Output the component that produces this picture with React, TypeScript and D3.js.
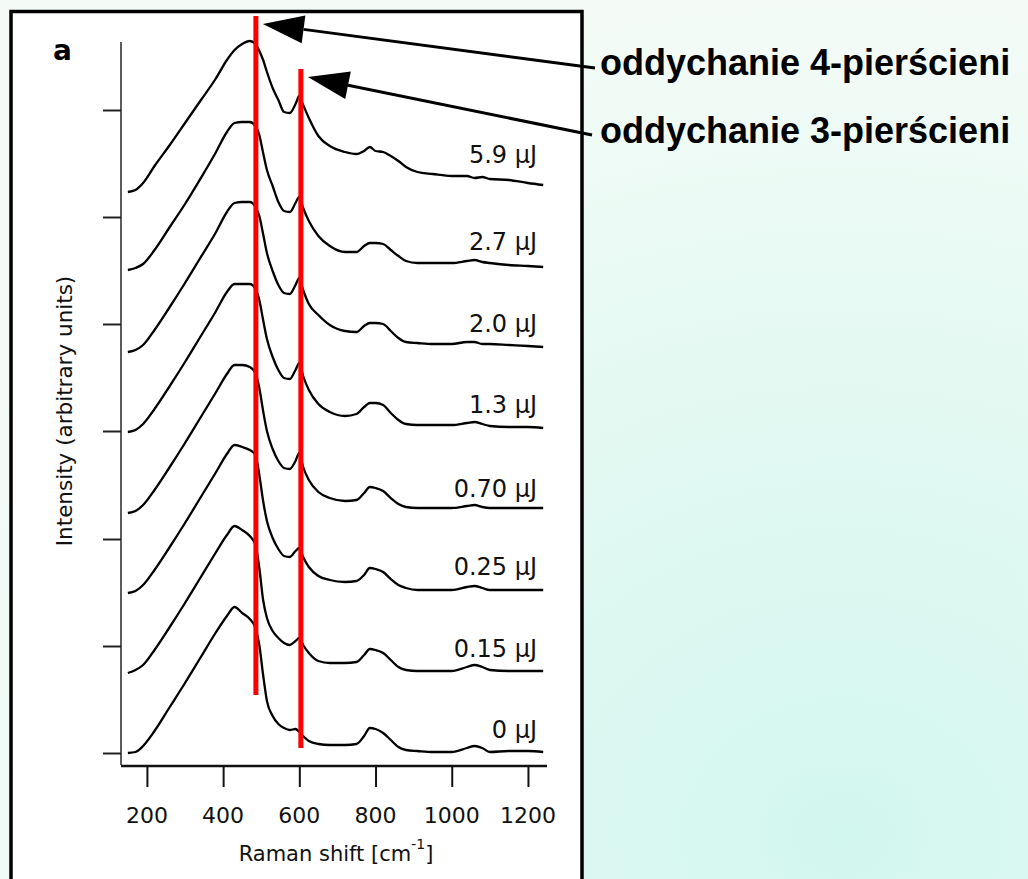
import React, { useRef, useEffect } from 'react';
import * as d3 from 'd3';

// Raman shift grid (cm-1) shared by all spectra
const ramanShift = [150, 170, 190, 220, 260, 300, 340, 380, 410, 430, 450, 470, 485, 495, 505, 515, 530, 545, 560, 575,
  590, 600, 610, 625, 650, 680, 720, 750, 770, 785, 800, 820, 840, 860, 880, 910, 950, 1000, 1040, 1060,
  1080, 1100, 1150, 1200, 1240];

// intensities above each trace's own baseline (arbitrary units)
const spec0 = [0, 1, 7, 22, 46, 70, 95, 120, 137, 146, 140, 134, 125, 108, 78, 52, 37, 29, 25, 23,
  24, 21, 17, 12, 9, 8, 8, 9, 17, 25, 24, 20, 13, 6, 3, 2, 1, 1, 5, 7, 5, 1, 2, 2, 1];
const spec015 = [0, 3, 8, 23, 46, 70, 95, 120, 138, 147, 143, 137, 128, 105, 73, 55, 42, 35, 30, 28,
  32, 35, 28, 20, 12, 10, 10, 11, 18, 24, 23, 20, 13, 6, 3, 2, 2, 2, 6, 8, 6, 3, 2, 2, 2];
const spec025 = [0, 2, 8, 23, 46, 70, 95, 120, 139, 148, 146, 143, 138, 118, 92, 72, 55, 44, 37, 36,
  42, 45, 36, 26, 17, 13, 11, 12, 18, 25, 24, 21, 14, 8, 5, 3, 3, 3, 6, 7, 5, 3, 3, 3, 3];
const spec070 = [0, 2, 8, 23, 46, 70, 95, 120, 139, 148, 148, 146, 140, 125, 102, 82, 64, 52, 45, 44,
  52, 60, 46, 33, 21, 15, 12, 13, 20, 26, 25, 22, 15, 9, 6, 5, 5, 5, 7, 8, 6, 5, 5, 5, 5];
const spec13 = [0, 2, 8, 23, 46, 70, 95, 120, 140, 148, 148, 148, 143, 132, 112, 93, 75, 62, 54, 53,
  62, 69, 56, 42, 28, 20, 16, 18, 25, 29, 29, 27, 19, 12, 8, 7, 7, 7, 9, 10, 8, 6, 5, 5, 4];
const spec20 = [0, 2, 7, 22, 45, 69, 94, 119, 140, 149, 150, 150, 145, 136, 118, 99, 81, 67, 59, 58,
  67, 74, 62, 48, 37, 27, 21, 20, 26, 29, 29, 28, 21, 14, 10, 9, 8, 8, 10, 10, 8, 8, 7, 6, 5];
const spec27 = [0, 2, 6, 20, 43, 66, 91, 117, 138, 147, 148, 148, 144, 135, 117, 100, 84, 68, 59, 58,
  67, 73, 62, 49, 34, 24, 18, 18, 24, 27, 27, 26, 20, 14, 9, 7, 7, 7, 9, 10, 8, 7, 5, 4, 3];
const spec59 = [0, 2, 9, 26, 47, 69, 91, 113, 132, 142, 148, 151, 148, 141, 132, 120, 104, 92, 80, 79,
  88, 96, 87, 74, 56, 46, 40, 38, 41, 45, 41, 40, 36, 31, 25, 20, 18, 16, 16, 14, 15, 13, 12, 9, 7];

const spectra = [spec0, spec015, spec025, spec070, spec13, spec20, spec27, spec59];
const energyLabels = ['0 µJ', '0.15 µJ', '0.25 µJ', '0.70 µJ', '1.3 µJ', '2.0 µJ', '2.7 µJ', '5.9 µJ'];
const offsets = [0, 80, 160, 240, 321, 401, 483, 561];
const labelLevels = [15, 96, 178, 256, 340, 421, 503, 590];

const xTicks = [200, 400, 600, 800, 1000, 1200];
const yTicks = [0, 107, 214, 322, 429, 536, 643];

// breathing modes marked with red lines
const modeShift = [486, 604];
const modeTop = [737, 684];
const modeLabels = ['oddychanie 4-pierścieni', 'oddychanie 3-pierścieni'];

const W = 1028;
const H = 879;

const App = () => {
  const svgRef = useRef(null);

  useEffect(() => {
    const svg = d3.select(svgRef.current);
    svg.selectAll('*').remove();

    // page background
    const defs = svg.append('defs');
    const bg = defs.append('radialGradient')
      .attr('id', 'bg').attr('cx', 0.82).attr('cy', 0.95).attr('r', 0.95);
    bg.append('stop').attr('offset', 0).attr('stop-color', '#d2f7ef');
    bg.append('stop').attr('offset', 0.55).attr('stop-color', '#e3f9f2');
    bg.append('stop').attr('offset', 1).attr('stop-color', '#f4fbf7');
    svg.append('rect').attr('width', W).attr('height', H).attr('fill', 'url(#bg)');

    // white figure panel
    svg.append('rect')
      .attr('x', 11).attr('y', 11.5).attr('width', 571).attr('height', 900)
      .attr('fill', '#fff').attr('stroke', '#000').attr('stroke-width', 3.5);

    const x = d3.scaleLinear().domain([132, 1250]).range([121, 547]);
    const y = d3.scaleLinear().domain([-12, 711]).range([765, 42]);

    const font = '"DejaVu Sans", Verdana, sans-serif';

    // y axis
    svg.append('line')
      .attr('x1', 121).attr('x2', 121).attr('y1', y(711)).attr('y2', y(-12))
      .attr('stroke', '#333').attr('stroke-width', 1.6);
    const yAxis = svg.append('g')
      .attr('transform', 'translate(121,0)')
      .call(d3.axisLeft(y).tickValues(yTicks).tickSize(18).tickFormat(() => ''));
    yAxis.select('.domain').remove();
    yAxis.selectAll('line').attr('stroke', '#222').attr('stroke-width', 2);

    // x axis
    svg.append('line')
      .attr('x1', x(132)).attr('x2', x(1250)).attr('y1', 766).attr('y2', 766)
      .attr('stroke', '#111').attr('stroke-width', 2.6);
    const xAxis = svg.append('g')
      .attr('transform', 'translate(0,767)')
      .call(d3.axisBottom(x).tickValues(xTicks).tickSize(20).tickFormat(() => ''));
    xAxis.select('.domain').remove();
    xAxis.selectAll('line').attr('stroke', '#111').attr('stroke-width', 2);

    svg.append('g')
      .selectAll('text')
      .data(xTicks)
      .join('text')
      .attr('x', d => x(d))
      .attr('y', 823)
      .attr('text-anchor', 'middle')
      .attr('font-family', font)
      .attr('font-size', 22)
      .attr('fill', '#111')
      .text(d => d);

    // axis titles
    const xt = svg.append('text')
      .attr('x', 336).attr('y', 861)
      .attr('text-anchor', 'middle')
      .attr('font-family', font).attr('font-size', 21).attr('fill', '#111');
    xt.append('tspan').text('Raman shift [cm');
    xt.append('tspan').attr('font-size', 14).attr('dy', -12).text('-1');
    xt.append('tspan').attr('dy', 12).text(']');

    svg.append('text')
      .attr('transform', 'translate(72,411) rotate(-90)')
      .attr('text-anchor', 'middle')
      .attr('font-family', font).attr('font-size', 21.5).attr('fill', '#111')
      .text('Intensity (arbitrary units)');

    svg.append('text')
      .attr('x', 53).attr('y', 60)
      .attr('font-family', font).attr('font-size', 28).attr('font-weight', 'bold')
      .text('a');

    // spectra
    spectra.forEach((s, k) => {
      const line = d3.line()
        .x((d, i) => x(ramanShift[i]))
        .y(d => y(d + offsets[k]))
        .curve(d3.curveMonotoneX);
      svg.append('path')
        .attr('d', line(s))
        .attr('fill', 'none')
        .attr('stroke', '#000')
        .attr('stroke-width', 2.3)
        .attr('stroke-linejoin', 'round');
    });

    svg.append('g')
      .selectAll('text')
      .data(energyLabels)
      .join('text')
      .attr('x', x(1224))
      .attr('y', (d, i) => y(labelLevels[i]))
      .attr('text-anchor', 'end')
      .attr('font-family', font)
      .attr('font-size', 24)
      .attr('fill', '#111')
      .text(d => d);

    // red marker lines
    svg.append('g')
      .selectAll('line')
      .data(modeShift)
      .join('line')
      .attr('x1', d => x(d)).attr('x2', d => x(d))
      .attr('y1', (d, i) => y(modeTop[i]))
      .attr('y2', (d, i) => y(modeTop[i] - 679))
      .attr('stroke', '#ff0000')
      .attr('stroke-width', 5);

    // arrows and labels
    const tails = [[595, 68], [592, 135]];
    const textY = [75, 143];
    modeShift.forEach((m, i) => {
      const tip = [x(m) + 7, y(modeTop[i]) + 8];
      const [tx, ty] = tails[i];
      const ang = Math.atan2(ty - tip[1], tx - tip[0]);
      const len = 41;
      const hw = 14;
      const bx = tip[0] + len * Math.cos(ang);
      const by = tip[1] + len * Math.sin(ang);
      svg.append('line')
        .attr('x1', bx).attr('y1', by).attr('x2', tx).attr('y2', ty)
        .attr('stroke', '#000').attr('stroke-width', 3);
      svg.append('polygon')
        .attr('points', [
          tip,
          [bx - hw * Math.sin(ang), by + hw * Math.cos(ang)],
          [bx + hw * Math.sin(ang), by - hw * Math.cos(ang)]
        ].map(p => p.join(',')).join(' '))
        .attr('fill', '#000');
      svg.append('text')
        .attr('x', 600).attr('y', textY[i])
        .attr('font-family', '"Liberation Sans", Arial, sans-serif')
        .attr('font-weight', 'bold')
        .attr('font-size', 36)
        .attr('fill', '#000')
        .text(modeLabels[i]);
    });
  }, []);

  return (
    <svg ref={svgRef} width={W} height={H}
      style={{ position: 'absolute', left: 0, top: 0, display: 'block' }} />
  );
};

export default App;
